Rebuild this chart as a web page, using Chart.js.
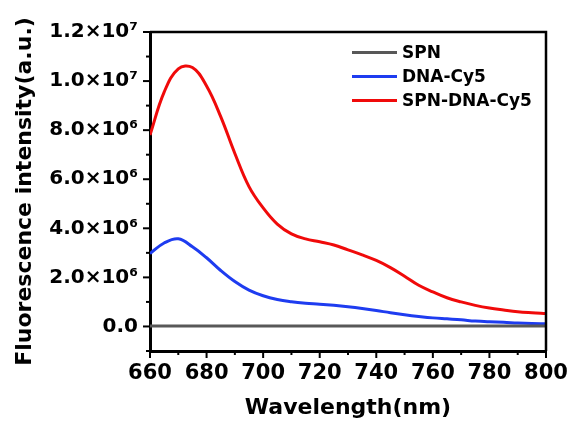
<!DOCTYPE html>
<html>
<head>
<meta charset="utf-8">
<script src="https://cdn.jsdelivr.net/npm/chart.js@4"></script>
<style>
  html, body { margin: 0; padding: 0; background: #fff; }
  #wrap { width: 574px; height: 423px; }
</style>
</head>
<body>
<div id="wrap"><canvas id="myChart" width="574" height="423"></canvas></div>
<script>
// wavelength (nm)
var wavelengths = [660, 665, 670, 675, 680, 685, 690, 695, 700, 705, 710, 715, 720, 725, 730,
                   735, 740, 745, 750, 755, 760, 765, 770, 775, 780, 785, 790, 795, 800];
// intensities, in units of 1e6 a.u.
var spn = [0.02, 0.02, 0.02, 0.02, 0.02, 0.02, 0.02, 0.02, 0.02, 0.02, 0.02, 0.02, 0.02, 0.02, 0.02,
           0.02, 0.02, 0.02, 0.02, 0.02, 0.02, 0.02, 0.02, 0.02, 0.02, 0.02, 0.02, 0.02, 0.02];
var dnaCy5 = [2.97, 3.4, 3.57, 3.25, 2.8, 2.28, 1.83, 1.48, 1.25, 1.1, 1.01, 0.95, 0.91, 0.86, 0.8,
              0.73, 0.65, 0.56, 0.48, 0.41, 0.35, 0.31, 0.27, 0.22, 0.19, 0.17, 0.14, 0.12, 0.11];
var spnDnaCy5 = [7.8, 9.55, 10.5, 10.55, 9.8, 8.55, 7.05, 5.7, 4.83, 4.17, 3.77, 3.57, 3.45, 3.32, 3.12,
                 2.92, 2.69, 2.4, 2.05, 1.68, 1.41, 1.17, 1.0, 0.86, 0.75, 0.67, 0.6, 0.56, 0.53];
var seriesNames = ['SPN', 'DNA-Cy5', 'SPN-DNA-Cy5'];
var seriesColors = ['#585858', '#1e3cf0', '#f00a0a'];
var xTicks = [660, 680, 700, 720, 740, 760, 780, 800];

var FONT = 'DejaVu Sans';

function pts(ys) {
  return wavelengths.map(function (w, i) { return {x: w, y: ys[i] * 1e6}; });
}

var sup = {'0': '\u2070', '1': '\u00b9', '2': '\u00b2', '3': '\u00b3', '4': '\u2074',
           '5': '\u2075', '6': '\u2076', '7': '\u2077', '8': '\u2078', '9': '\u2079'};
function sciLabel(v) {
  if (v < 0) return '';
  if (v === 0) return '0.0';
  var e = Math.floor(Math.log10(v) + 1e-9);
  var m = (v / Math.pow(10, e)).toFixed(1);
  return m + '\u00d710' + String(e).split('').map(function (c) { return sup[c]; }).join('');
}

// frame, tick marks and legend drawn inside the plot
var decor = {
  id: 'decor',
  afterDraw: function (chart) {
    var c = chart.ctx, a = chart.chartArea;
    var xs = chart.scales.x, ys = chart.scales.y;
    c.save();
    c.strokeStyle = '#000';
    c.lineWidth = 2.5;
    c.beginPath();
    c.moveTo(a.left, a.top); c.lineTo(a.right, a.top); c.lineTo(a.right, a.bottom);
    c.stroke();
    c.lineWidth = 2;
    for (var w = 660; w <= 800; w += 10) {
      var px = xs.getPixelForValue(w);
      c.beginPath();
      c.moveTo(px, a.bottom);
      c.lineTo(px, a.bottom + (w % 20 === 0 ? 7 : 4));
      c.stroke();
    }
    for (var k = -1; k <= 12; k++) {
      var py = ys.getPixelForValue(k * 1e6);
      c.beginPath();
      c.moveTo(a.left, py);
      c.lineTo(a.left - (k % 2 === 0 ? 7 : 4), py);
      c.stroke();
    }
    // legend
    c.font = 'bold 17px "' + FONT + '"';
    c.textBaseline = 'middle';
    c.textAlign = 'left';
    chart.data.datasets.forEach(function (ds, i) {
      var y = 52.5 + i * 24;
      c.strokeStyle = ds.borderColor;
      c.lineWidth = 3;
      c.beginPath();
      c.moveTo(352, y); c.lineTo(397, y);
      c.stroke();
      c.fillStyle = '#000';
      c.fillText(ds.label, 402, y + 1);
    });
    c.restore();
  }
};

var ctx = document.getElementById('myChart').getContext('2d');
var myChart = new Chart(ctx, {
  type: 'line',
  data: {
    datasets: [
      { label: seriesNames[0], data: pts(spn), borderColor: seriesColors[0], borderWidth: 3 },
      { label: seriesNames[1], data: pts(dnaCy5), borderColor: seriesColors[1], borderWidth: 3 },
      { label: seriesNames[2], data: pts(spnDnaCy5), borderColor: seriesColors[2], borderWidth: 3 }
    ]
  },
  options: {
    responsive: false,
    animation: false,
    layout: { padding: { left: 0, top: 32, right: 28, bottom: 0 } },
    elements: { point: { radius: 0 }, line: { tension: 0.4, fill: false } },
    plugins: { legend: { display: false }, tooltip: { enabled: false } },
    scales: {
      x: {
        type: 'linear', min: 660, max: 800,
        afterBuildTicks: function (s) { s.ticks = xTicks.map(function (v) { return {value: v}; }); },
        afterFit: function (s) { s.height = 72; s.paddingLeft = 0; s.paddingRight = 0; },
        grid: { display: false, drawTicks: false },
        border: { display: true, color: '#000', width: 3 },
        ticks: { color: '#000', padding: 10, maxRotation: 0, font: { family: FONT, size: 21, weight: 'bold' } },
        title: { display: true, text: 'Wavelength(nm)', color: '#000', padding: { top: 0, bottom: 2 },
                 font: { family: FONT, size: 22, weight: 'bold' } }
      },
      y: {
        min: -1e6, max: 1.2e7,
        afterBuildTicks: function (s) {
          var t = [];
          for (var k = 0; k <= 12; k += 2) t.push({value: k * 1e6});
          s.ticks = t;
        },
        afterFit: function (s) { s.width = 150; s.paddingTop = 0; s.paddingBottom = 0; },
        grid: { display: false, drawTicks: false },
        border: { display: true, color: '#000', width: 3 },
        ticks: { color: '#000', padding: 12, callback: sciLabel,
                 font: { family: FONT, size: 20, weight: 'bold' } },
        title: { display: true, text: 'Fluorescence intensity(a.u.)', color: '#000', padding: { top: 12, bottom: 0 },
                 font: { family: FONT, size: 22, weight: 'bold' } }
      }
    }
  },
  plugins: [decor]
});
</script>
</body>
</html>
